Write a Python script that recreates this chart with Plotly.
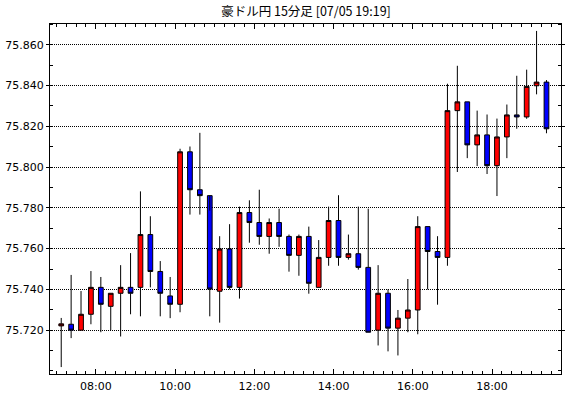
import pandas as pd
import plotly.graph_objects as go

# 15-minute candles, 07:00 .. 19:15 (plotted at the middle of each interval)
start_time = "2024-07-05 07:00"
n_bars = 50
times = pd.date_range(start_time, periods=n_bars, freq="15min") + pd.Timedelta(minutes=7.5)

open_ = [75.7221, 75.7229, 75.7200, 75.7278, 75.7410, 75.7317, 75.7381, 75.7410, 75.7410, 75.7669,
         75.7488, 75.7368, 75.7327, 75.8075, 75.7889, 75.7860, 75.7391, 75.7598, 75.7410, 75.7777,
         75.7728, 75.7660, 75.7728, 75.7660, 75.7567, 75.7660, 75.7410, 75.7557, 75.7738, 75.7557,
         75.7575, 75.7508, 75.7200, 75.7381, 75.7210, 75.7259, 75.7299, 75.7708, 75.7586, 75.7557,
         75.8277, 75.8320, 75.8109, 75.8158, 75.8007, 75.8148, 75.8256, 75.8246, 75.8399, 75.8417]
high = [75.7260, 75.7471, 75.7392, 75.7490, 75.7461, 75.7381, 75.7519, 75.7578, 75.7881, 75.7759,
        75.7539, 75.7461, 75.8090, 75.8101, 75.8168, 75.7787, 75.7661, 75.7720, 75.7806, 75.7837,
        75.7889, 75.7748, 75.7796, 75.7669, 75.7669, 75.7708, 75.7642, 75.7806, 75.7862, 75.7669,
        75.7806, 75.7796, 75.7519, 75.7400, 75.7299, 75.7451, 75.7759, 75.7708, 75.7661, 75.8409,
        75.8497, 75.8320, 75.8277, 75.8258, 75.8238, 75.8307, 75.8448, 75.8478, 75.8668, 75.8427]
low = [75.7019, 75.7161, 75.7200, 75.7229, 75.7190, 75.7200, 75.7169, 75.7278, 75.7268, 75.7410,
       75.7268, 75.7259, 75.7288, 75.7767, 75.7767, 75.7268, 75.7237, 75.7400, 75.7355, 75.7629,
       75.7619, 75.7575, 75.7609, 75.7487, 75.7467, 75.7379, 75.7410, 75.7516, 75.7516, 75.7546,
       75.7497, 75.7190, 75.7125, 75.7096, 75.7076, 75.7190, 75.7180, 75.7400, 75.7325, 75.7516,
       75.7976, 75.8044, 75.8005, 75.7966, 75.7858, 75.8044, 75.8188, 75.8237, 75.8357, 75.8166]
close = [75.7231, 75.7200, 75.7278, 75.7410, 75.7327, 75.7381, 75.7410, 75.7381, 75.7669, 75.7488,
         75.7381, 75.7327, 75.8075, 75.7889, 75.7860, 75.7402, 75.7598, 75.7410, 75.7777, 75.7728,
         75.7660, 75.7728, 75.7660, 75.7567, 75.7660, 75.7430, 75.7557, 75.7738, 75.7557, 75.7575,
         75.7508, 75.7190, 75.7381, 75.7210, 75.7259, 75.7299, 75.7708, 75.7586, 75.7557, 75.8277,
         75.8320, 75.8109, 75.8158, 75.8007, 75.8148, 75.8256, 75.8246, 75.8396, 75.8417, 75.8188]

y_tickvals = [75.720, 75.740, 75.760, 75.780, 75.800, 75.820, 75.840, 75.860]
title_text = "豪ドル円 15分足 [07/05 19:19]"
y_range = [75.6985, 75.8702]
x_range = ["2024-07-05 06:50:30", "2024-07-05 19:44:30"]

fig = go.Figure(go.Candlestick(
    x=times, open=open_, high=high, low=low, close=close,
    increasing=dict(fillcolor="#FF0000", line=dict(color="#000000", width=1)),
    decreasing=dict(fillcolor="#0000FF", line=dict(color="#000000", width=1)),
    whiskerwidth=0,
    hoverinfo="skip",
))

font_family = "DejaVu Sans"
fig.update_layout(
    width=570, height=398,
    margin=dict(l=49, r=5, t=24, b=23),
    paper_bgcolor="white", plot_bgcolor="white",
    showlegend=False,
    boxgap=0.32,
    title=dict(text=title_text, x=306 / 570, xanchor="center", y=1 - 12 / 398, yanchor="middle",
               font=dict(family="Noto Sans CJK JP", size=12.5, color="black")),
    font=dict(family=font_family, size=11, color="black"),
)
fig.update_xaxes(
    type="date", range=x_range, rangeslider=dict(visible=False),
    tickformat="%H:%M", dtick=2 * 3600 * 1000, tick0="2024-07-05 00:00",
    ticks="inside", ticklen=5, tickcolor="black", tickwidth=1,
    minor=dict(dtick=15 * 60 * 1000, tick0="2024-07-05 00:00", ticks="inside", ticklen=3,
               tickcolor="black", showgrid=False),
    showline=True, linecolor="black", linewidth=1, mirror="ticks",
    showgrid=False, zeroline=False, ticklabelstandoff=2,
    tickfont=dict(family=font_family, size=11, color="black"),
)
fig.update_yaxes(
    range=y_range, side="left",
    tickmode="array", tickvals=y_tickvals, tickformat=".3f",
    ticks="outside", ticklen=3, tickcolor="black", tickwidth=1,
    minor=dict(dtick=0.01, tick0=75.70, ticks="inside", ticklen=3, tickcolor="black", showgrid=False),
    showline=True, linecolor="black", linewidth=1, mirror="ticks",
    showgrid=True, gridcolor="black", gridwidth=1, griddash="1px,1px",
    zeroline=False, ticklabelstandoff=0,
    tickfont=dict(family=font_family, size=11, color="black"),
)

fig.write_html("out.html")
